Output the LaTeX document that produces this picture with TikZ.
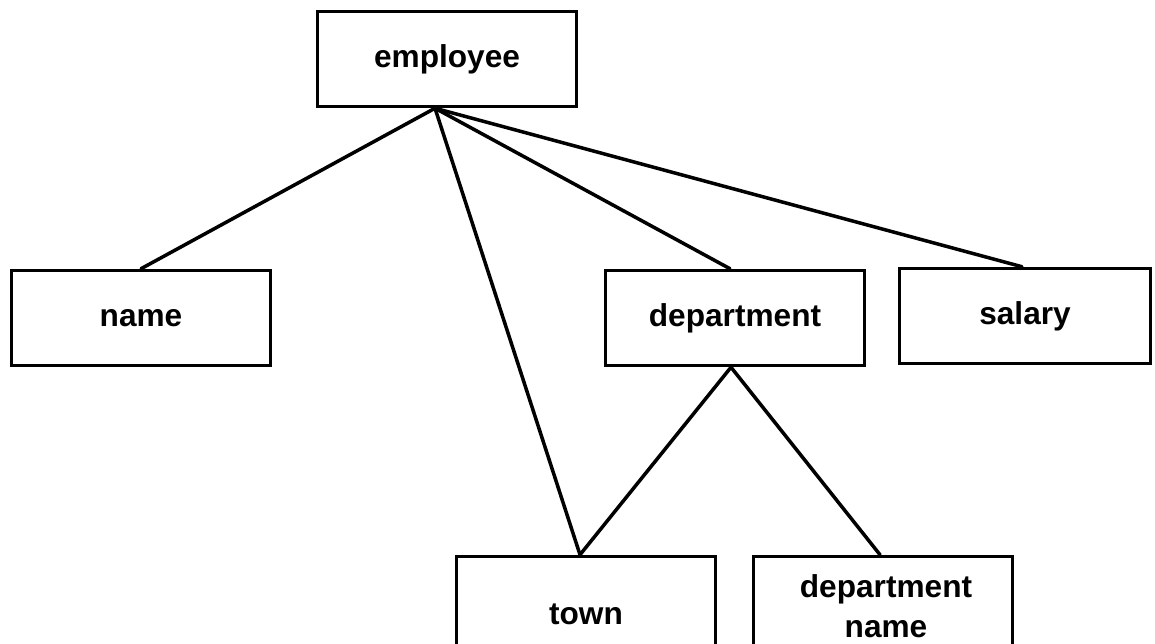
\documentclass[tikz,border=0pt]{standalone}
\usepackage{fontspec}
\setmainfont{Liberation Sans}
\usepackage{tikz}

\begin{document}
\begin{tikzpicture}[x=0.02cm,y=-0.02cm,
    entity/.style={draw,line width=2pt,minimum width=5.18cm,minimum height=1.9cm,
        inner sep=0pt,align=center,font=\fontsize{18}{23}\selectfont\bfseries},
    link/.style={-,line width=2pt,line cap=round}]
\useasboundingbox (0,0) rectangle (1155,644);
\node[entity] (employee) at (447,59) {employee};

    \node[entity] (name) at (141,318) {name};
    \node[entity] (department) at (735,318) {department};
    \node[entity,minimum width=5.02cm] (salary) at (1025,316) {salary};

    \node[entity,minimum height=2.3cm] (town) at (586,614) {town};
    \node[entity,minimum height=2.3cm] (deptname) at (883,614) {};
    \node[entity,draw=none,minimum width=0pt,minimum height=0pt] (deptnametext) at (886,606) {department\\name};

    \coordinate (hub) at ([xshift=-0.24cm]employee.south);

    \path[link] (hub) edge (name.north);
    \path[link] (hub) edge ([xshift=-0.12cm]town.north);
    \path[link] (hub) edge ([xshift=-0.1cm]department.north);
    \path[link] (hub) edge ([xshift=-0.06cm]salary.north);
    \path[link] ([xshift=-0.08cm]department.south) edge ([xshift=-0.12cm]town.north);
    \path[link] ([xshift=-0.08cm]department.south) edge ([xshift=-0.06cm]deptname.north);
\end{tikzpicture}
\end{document}
